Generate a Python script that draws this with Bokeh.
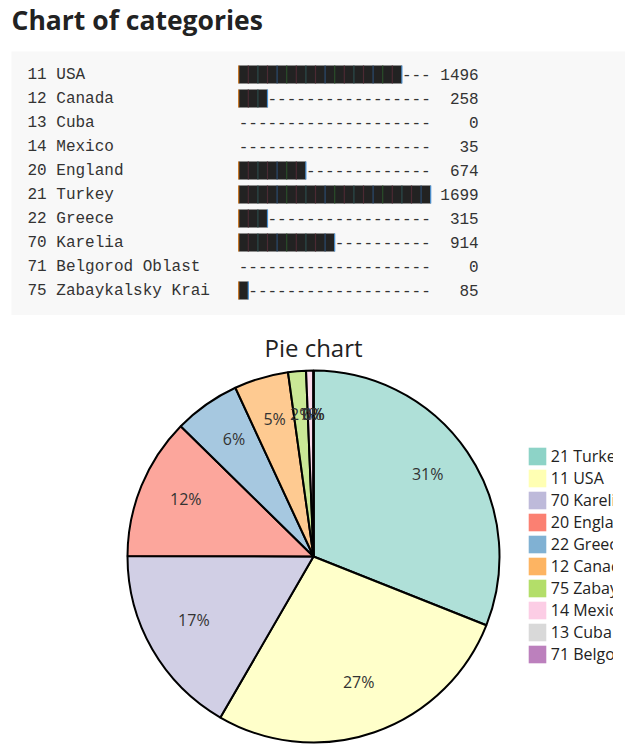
import math
from bokeh.plotting import figure
from bokeh.models import Range1d, ColumnDataSource, Legend, LegendItem
from bokeh.layouts import column
from bokeh.core.properties import value
from bokeh.embed import file_html
from bokeh.resources import INLINE

# ---- data ----
codes = ["11", "12", "13", "14", "20", "21", "22", "70", "71", "75"]
names = ["USA", "Canada", "Cuba", "Mexico", "England", "Turkey", "Greece",
         "Karelia", "Belgorod Oblast", "Zabaykalsky Krai"]
values = [1496, 258, 0, 35, 674, 1699, 315, 914, 0, 85]
palette = ["#8dd3c7", "#ffffb3", "#bebada", "#fb8072", "#80b1d3",
           "#fdb462", "#b3de69", "#fccde5", "#d9d9d9", "#bc80bd"]
bar_cols = 20
main_title = "Chart of categories"
pie_title = "Pie chart"

labels = [f"{c} {n}" for c, n in zip(codes, names)]

# ---- text bar chart panel ----
W1, H1 = 625, 320
p1 = figure(width=W1, height=H1, x_range=Range1d(0, W1), y_range=Range1d(H1, 0),
            output_backend="svg", toolbar_location=None, x_axis_type=None,
            y_axis_type=None, min_border=0, outline_line_color=None)
p1.grid.visible = False

p1.text(x=[11], y=[19], text=[main_title], text_font=value("Open Sans"),
        text_font_style="bold", text_font_size="26.5px", text_color="#222222",
        text_baseline="middle")
p1.quad(left=[11], right=[700], top=[51], bottom=[314.5],
        fill_color="#f8f8f8", line_color=None)

cw = 9.6
x0 = 27
row0 = 74
rh = 24
vmax = max(values)
mono = value("Liberation Mono")

ys = [row0 + rh * i for i in range(len(values))]
nblocks = [int(math.floor(v / vmax * bar_cols)) for v in values]
bar_left = x0 + 22 * cw

src = ColumnDataSource(dict(
    y=ys, lab=labels, val=[str(v) for v in values],
    left=[bar_left] * len(values),
    right=[bar_left + n * cw for n in nblocks],
    dash=["-" * (bar_cols - n) for n in nblocks],
    dx=[bar_left + n * cw for n in nblocks],
))
p1.text(x=x0, y="y", text="lab", source=src, text_font=mono, text_font_size="16px",
        text_color="#333333", text_baseline="middle", y_offset=0)
p1.hbar(y="y", left="left", right="right", height=18, source=src,
        fill_color="#222222", line_color=None)
p1.text(x="dx", y="y", text="dash", source=src, text_font=mono, text_font_size="16px",
        text_color="#333333", text_baseline="middle")
p1.text(x=x0 + 47 * cw, y="y", text="val", source=src, text_font=mono,
        text_font_size="16px", text_color="#333333", text_baseline="middle",
        text_align="right")

# subpixel-like separators inside the block bars
sep_pat = ["#4b2a33", "#2a4b4b", "#4b2a33", "#2a4a6e", "#2a4d2a"]
sx, sy0, sy1, sc = [], [], [], []
for y, n in zip(ys, nblocks):
    if n == 0:
        continue
    for k in range(n + 1):
        sx.append(bar_left + k * cw)
        sy0.append(y - 9)
        sy1.append(y + 9)
        if k == 0:
            sc.append("#c8741e")
        elif k == n:
            sc.append("#4a92d4")
        else:
            sc.append(sep_pat[(k - 1) % 5])
p1.segment(x0=sx, y0=sy0, x1=sx, y1=sy1, line_color=sc, line_width=1.2)

# ---- pie chart ----
W2, H2 = 613, 431
p2 = figure(width=W2, height=H2, x_range=Range1d(0, W2), y_range=Range1d(0, H2),
            output_backend="svg", toolbar_location=None, x_axis_type=None,
            y_axis_type=None, min_border=0, outline_line_color=None)
p2.grid.visible = False

order = sorted(range(len(values)), key=lambda i: -values[i])
total = sum(values)
s_labels = [labels[i] for i in order]
s_vals = [values[i] for i in order]
s_cols = palette[:len(order)]
fr = [v / total for v in s_vals]
cum = [0.0]
for f in fr:
    cum.append(cum[-1] + f)
start = [math.pi / 2 - 2 * math.pi * cum[i] for i in range(len(fr))]
end = [math.pi / 2 - 2 * math.pi * cum[i + 1] for i in range(len(fr))]
mid = [math.pi / 2 - 2 * math.pi * (cum[i] + fr[i] / 2) for i in range(len(fr))]

cx, cy, R = 313, 195, 186
lr = 138

nz = [i for i in range(len(fr)) if s_vals[i] > 0]
zr = [i for i in range(len(fr)) if s_vals[i] == 0]
wsrc = ColumnDataSource(dict(
    start=[start[i] for i in nz], end=[end[i] for i in nz],
    color=[s_cols[i] for i in nz],
))
p2.wedge(x=cx, y=cy, radius=R, start_angle="start", end_angle="end",
         direction="clock", fill_color="color", fill_alpha=0.7,
         line_color="black", line_width=2, source=wsrc)
# zero-size slices collapse to a single edge line
p2.segment(x0=[cx] * len(zr), y0=[cy] * len(zr),
           x1=[cx + R * math.cos(start[i]) for i in zr],
           y1=[cy + R * math.sin(start[i]) for i in zr],
           line_color="black", line_width=2)

tsrc = ColumnDataSource(dict(
    tx=[cx + lr * math.cos(a) for a in mid],
    ty=[cy + lr * math.sin(a) for a in mid],
    pct=[f"{round(f * 100)}%" for f in fr],
))
p2.text(x="tx", y="ty", text="pct", source=tsrc, text_font=value("Open Sans"),
        text_font_size="16px", text_color="#333333", text_align="center",
        text_baseline="middle", y_offset=-5)
p2.text(x=[cx], y=[H2 - 27], text=[pie_title], text_font=value("Open Sans"),
        text_font_size="24px", text_color="#222222", text_align="center",
        text_baseline="middle")

nan = float("nan")
lsrc = ColumnDataSource(dict(l=[nan] * len(order), r=[nan] * len(order),
                             t=[nan] * len(order), b=[nan] * len(order),
                             color=s_cols))
r_leg = p2.quad(left="l", right="r", top="t", bottom="b", fill_color="color",
                line_color=None, source=lsrc)
items = [LegendItem(label=lab, renderers=[r_leg], index=i)
         for i, lab in enumerate(s_labels)]
legend = Legend(items=items, location=(525.75, 86.5), glyph_width=22,
                glyph_height=22, spacing=0, padding=0, margin=0,
                label_standoff=3, label_height=22,
                label_text_font="Open Sans", label_text_font_size="16px",
                label_text_color="#222222", border_line_alpha=0,
                background_fill_alpha=0)
p2.add_layout(legend)

layout = column(p1, p2)
open("out.html", "w").write(file_html(layout, INLINE))
